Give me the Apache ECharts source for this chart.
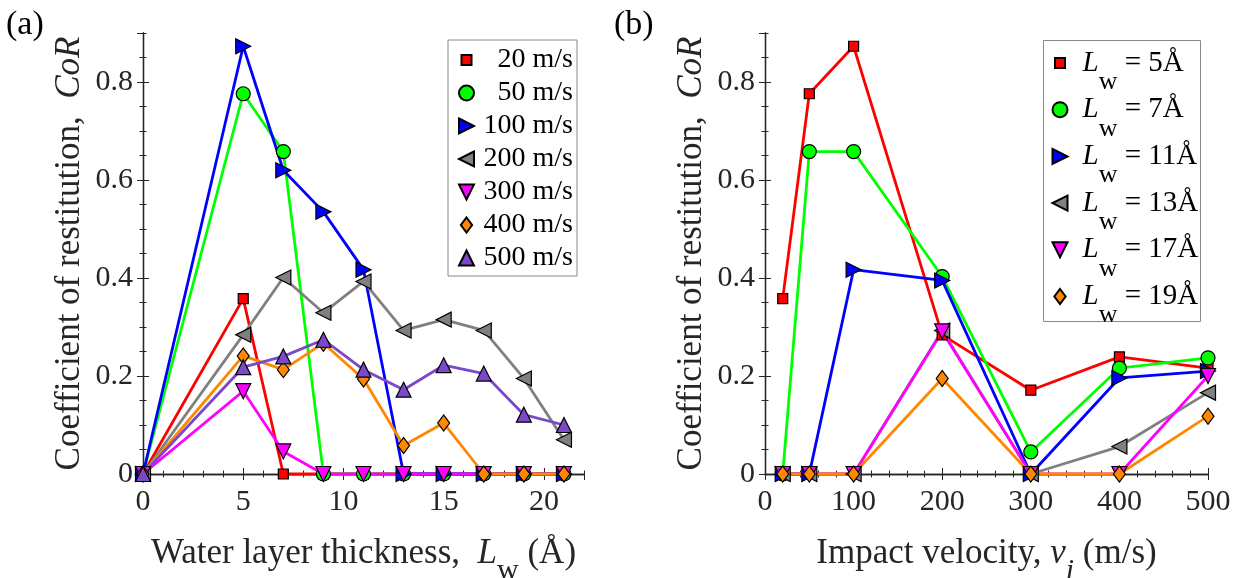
<!DOCTYPE html>
<html><head><meta charset="utf-8">
<script src="https://cdn.jsdelivr.net/npm/echarts@6/dist/echarts.min.js"></script>
<style>html,body{margin:0;padding:0;background:#fff}#c{width:1244px;height:578px}</style>
</head><body><div id="c"></div><script>
// ---------- data: panel (a) CoR vs water layer thickness ----------
const thickness = [0, 5, 7, 9, 11, 13, 15, 17, 19, 21];
const velocityNames = ['20 m/s', '50 m/s', '100 m/s', '200 m/s', '300 m/s', '400 m/s', '500 m/s'];
const corV20  = [0, 0.358, 0, 0, 0, 0, 0, 0, 0, 0];
const corV50  = [0, 0.776, 0.658, 0, 0, 0, 0, 0, 0, 0];
const corV100 = [0, 0.873, 0.620, 0.535, 0.417, 0, 0, 0, 0, 0];
const corV200 = [0, 0.284, 0.401, 0.329, 0.393, 0.293, 0.315, 0.293, 0.195, 0.070];
const corV300 = [0, 0.169, 0.046, 0, 0, 0, 0, 0, 0, 0];
const corV400 = [0, 0.241, 0.213, 0.267, 0.194, 0.058, 0.104, 0, 0, 0];
const corV500 = [0, 0.218, 0.240, 0.274, 0.213, 0.172, 0.222, 0.205, 0.121, 0.100];

// ---------- data: panel (b) CoR vs impact velocity ----------
const velocities = [20, 50, 100, 200, 300, 400, 500];
const thicknessNames = ['Lw = 5Å', 'Lw = 7Å', 'Lw = 11Å', 'Lw = 13Å', 'Lw = 17Å', 'Lw = 19Å'];
const corL5  = [0.358, 0.776, 0.873, 0.284, 0.171, 0.239, 0.216];
const corL7  = [0, 0.658, 0.658, 0.403, 0.045, 0.216, 0.237];
const corL11 = [0, 0, 0.417, 0.395, 0, 0.196, 0.210];
const corL13 = [0, 0, 0, 0.293, 0, 0.056, 0.166];
const corL17 = [0, 0, 0, 0.291, 0, 0, 0.200];
const corL19 = [0, 0, 0, 0.195, 0, 0, 0.118];

// ---------- tick labels ----------
const xTickLabelsA = ['0', '5', '10', '15', '20'];
const xTickLabelsB = ['0', '100', '200', '300', '400', '500'];
const yTickLabels = ['0', '0.2', '0.4', '0.6', '0.8'];

const FONT = '"Liberation Serif", serif';
const TXT = '#262626';
const SYM = {
  square: 'rect',
  circle: 'circle',
  right: 'path://M0,0L10,5L0,10Z',
  left: 'path://M10,0L0,5L10,10Z',
  down: 'path://M0,0L10,0L5,10Z',
  up: 'path://M5,0L10,10L0,10Z',
  diamond: 'diamond'
};
const LEG = {
  square: 'path://M0,0M15,15M2.5,2.5L12.5,2.5L12.5,12.5L2.5,12.5Z',
  circle: 'circle',
  right: SYM.right, left: SYM.left, down: SYM.down, up: SYM.up,
  diamond: 'path://M0,0M16,16M8,0L14,8L8,16L2,8Z'
};
const SIZE = {square: 10, circle: 14, right: 15, left: 15, down: 15, up: 15, diamond: [12, 16]};
const stylesA = [
  {c: '#ff0000', s: 'square'}, {c: '#00ff00', s: 'circle'}, {c: '#0000ff', s: 'right'},
  {c: '#808080', s: 'left'}, {c: '#ff00ff', s: 'down'}, {c: '#ff8800', s: 'diamond'},
  {c: '#7a48c8', s: 'up'}
];
const stylesB = stylesA.slice(0, 6);

function mk(name, xs, ys, st, gi) {
  return {
    type: 'line', name, xAxisIndex: gi * 4, yAxisIndex: gi * 4,
    data: xs.map((x, i) => [x, ys[i]]),
    symbol: SYM[st.s], symbolSize: SIZE[st.s], showAllSymbol: true,
    lineStyle: {color: st.c, width: 2.8},
    itemStyle: {color: st.c, borderColor: '#000', borderWidth: 1.2},
    emphasis: {disabled: true}, clip: false, animation: false
  };
}
const seriesA = [corV20, corV50, corV100, corV200, corV300, corV400, corV500]
  .map((d, i) => mk(velocityNames[i], thickness, d, stylesA[i], 0));
const seriesB = [corL5, corL7, corL11, corL13, corL17, corL19]
  .map((d, i) => mk(thicknessNames[i], velocities, d, stylesB[i], 1));

const tickLabelStyle = {fontFamily: FONT, fontSize: 30, color: TXT};
const nameRich = {
  t: {fontFamily: FONT, fontSize: 35, color: TXT, lineHeight: 46},
  i: {fontFamily: FONT, fontSize: 35, color: TXT, lineHeight: 46, fontStyle: 'italic'},
  s: {fontFamily: FONT, fontSize: 30, color: TXT, lineHeight: 12, padding: [34, 0, 0, 0]},
  si: {fontFamily: FONT, fontSize: 30, color: TXT, lineHeight: 12, padding: [34, 0, 0, 0], fontStyle: 'italic'}
};
const yNameRich = {
  t: {fontFamily: FONT, fontSize: 35, color: TXT, lineHeight: 36},
  i: {fontFamily: FONT, fontSize: 35, color: TXT, lineHeight: 36, fontStyle: 'italic'}
};
function xAxes(gi, max, major, minor, labels, name) {
  const base = {type: 'value', gridIndex: gi, min: 0, max: max, splitLine: {show: false}};
  return [
    Object.assign({}, base, {position: 'bottom', interval: major,
      axisLine: {show: true, lineStyle: {color: TXT, width: 1.3}},
      axisTick: {show: true, inside: true, length: 6, lineStyle: {color: TXT}},
      axisLabel: Object.assign({show: true, margin: 13, showMaxLabel: max % major === 0,
        formatter: v => { const s = String(v); return labels.indexOf(s) >= 0 ? s : ''; }}, tickLabelStyle),
      name: name, nameLocation: 'middle', nameGap: 49,
      nameTextStyle: {fontFamily: FONT, fontSize: 35, color: TXT, rich: nameRich}}),
    Object.assign({}, base, {position: 'bottom', interval: minor, axisLine: {show: false},
      axisTick: {show: true, inside: true, length: 3.5, lineStyle: {color: TXT}}, axisLabel: {show: false}}),
    Object.assign({}, base, {position: 'top', interval: major,
      axisLine: {show: true, lineStyle: {color: TXT, width: 1.3}},
      axisTick: {show: true, inside: true, length: 6, lineStyle: {color: TXT}}, axisLabel: {show: false}}),
    Object.assign({}, base, {position: 'top', interval: minor, axisLine: {show: false},
      axisTick: {show: true, inside: true, length: 3.5, lineStyle: {color: TXT}}, axisLabel: {show: false}})
  ];
}
function yAxes(gi) {
  const base = {type: 'value', gridIndex: gi, min: 0, max: 0.9, splitLine: {show: false}};
  return [
    Object.assign({}, base, {position: 'left', interval: 0.2,
      axisLine: {show: true, lineStyle: {color: TXT, width: 1.3}},
      axisTick: {show: true, inside: true, length: 6, lineStyle: {color: TXT}},
      axisLabel: Object.assign({show: true, margin: 10, showMaxLabel: false,
        formatter: v => { const s = v === 0 ? '0' : v.toFixed(1); return yTickLabels.indexOf(s) >= 0 ? s : ''; }}, tickLabelStyle),
      name: '{t|Coefficient of restitution,  }{i|CoR}', nameLocation: 'middle', nameGap: 55,
      nameTextStyle: {fontFamily: FONT, fontSize: 35, color: TXT, rich: yNameRich}}),
    Object.assign({}, base, {position: 'left', interval: 0.05, axisLine: {show: false},
      axisTick: {show: true, inside: true, length: 3.5, lineStyle: {color: TXT}}, axisLabel: {show: false}}),
    Object.assign({}, base, {position: 'right', interval: 0.2,
      axisLine: {show: true, lineStyle: {color: TXT, width: 1.3}},
      axisTick: {show: true, inside: true, length: 6, lineStyle: {color: TXT}}, axisLabel: {show: false}}),
    Object.assign({}, base, {position: 'right', interval: 0.05, axisLine: {show: false},
      axisTick: {show: true, inside: true, length: 3.5, lineStyle: {color: TXT}}, axisLabel: {show: false}})
  ];
}

const option = {
  animation: false,
  backgroundColor: '#fff',
  textStyle: {fontFamily: FONT, color: TXT},
  title: [
    {text: '(a)', left: 6, top: 8, padding: 0, textStyle: {fontFamily: FONT, fontSize: 34, fontWeight: 'normal', color: '#000'}},
    {text: '(b)', left: 614, top: 8, padding: 0, textStyle: {fontFamily: FONT, fontSize: 34, fontWeight: 'normal', color: '#000'}}
  ],
  graphic: [
    {type: 'rect', z: 1, shape: {x: 1043.5, y: 40.5, width: 157, height: 281},
      style: {fill: '#fff', stroke: '#888', lineWidth: 1}}
  ],
  grid: [
    {left: 143, top: 33, width: 441, height: 441, outerBoundsMode: 'none', containLabel: false},
    {left: 765, top: 33, width: 443, height: 441, outerBoundsMode: 'none', containLabel: false}
  ],
  xAxis: [].concat(
    xAxes(0, 22, 5, 1, xTickLabelsA, '{t|Water layer thickness,  }{i|L}{s|w}{t| (Å)}'),
    xAxes(1, 500, 100, 20, xTickLabelsB, '{t|Impact velocity, }{i|v}{si|i}{t| (m/s)}')
  ),
  yAxis: [].concat(yAxes(0), yAxes(1)),
  legend: [
    {
      orient: 'vertical', left: 448, top: 40, padding: [6, 4, 4, 10], itemGap: 5,
      itemWidth: 15, itemHeight: 15, borderColor: '#888', borderWidth: 1, backgroundColor: '#fff',
      selectedMode: false,
      data: velocityNames.map((n, i) => ({name: n, icon: LEG[stylesA[i].s]})),
      formatter: n => '{r|' + n + '}',
      textStyle: {fontFamily: FONT, fontSize: 28, color: '#000',
        rich: {r: {fontFamily: FONT, fontSize: 28, color: '#000', width: 94, align: 'right', lineHeight: 30}}}
    },
    {
      orient: 'vertical', left: 1051.5, top: 31, padding: 0, itemGap: -17.3,
      itemWidth: 15, itemHeight: 15, borderWidth: 0,
      selectedMode: false,
      data: thicknessNames.map((n, i) => ({name: n, icon: LEG[stylesB[i].s]})),
      formatter: n => '{i|L}{s|w}{t| = ' + n.split('= ')[1] + '}',
      textStyle: {fontFamily: FONT, fontSize: 29, color: '#000',
        rich: {
          i: {fontFamily: FONT, fontSize: 29, color: '#000', lineHeight: 30, verticalAlign: 'middle', fontStyle: 'italic', padding: [0, 0, 0, 10]},
          s: {fontFamily: FONT, fontSize: 26, color: '#000', lineHeight: 26, padding: [38, 0, 0, 0]},
          t: {fontFamily: FONT, fontSize: 29, color: '#000', lineHeight: 30, verticalAlign: 'middle'}
        }}
    }
  ],
  series: seriesA.concat(seriesB)
};
const chart = echarts.init(document.getElementById('c'), null, {renderer: 'canvas'});
chart.setOption(option);
</script></body></html>
